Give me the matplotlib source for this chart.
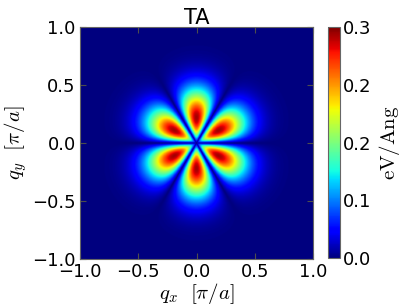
import numpy as np
import matplotlib
matplotlib.use("Agg")
import matplotlib.pyplot as plt

plt.rcParams['mathtext.fontset'] = 'cm'
plt.rcParams['font.family'] = ['DejaVu Sans']

# Data
q_range = [-1.0, 1.0]
n_grid = 400
peak_value = [0.30]          # eV/Ang, max of lobes
lobe_radius = [0.22]         # radius of lobe maxima (pi/a)
n_lobes = [6]
cbar_ticks = [0.0, 0.0775, 0.155, 0.2325, 0.31]
cbar_labels = ["0.0", "0.1", "0.2", "0.2", "0.3"]
axis_ticks = [-1.0, -0.5, 0.0, 0.5, 1.0]
title = "TA"

q = np.linspace(q_range[0], q_range[1], n_grid)
QX, QY = np.meshgrid(q, q)
R = np.hypot(QX, QY)
TH = np.arctan2(QY, QX)
r0 = lobe_radius[0]
radial = (R / r0) * np.exp(0.5 * (1 - (R / r0) ** 2))
field = peak_value[0] * radial * np.abs(np.sin(n_lobes[0] / 2 * TH))

fig = plt.figure(figsize=(4.07, 3.05), dpi=100)
ax = fig.add_axes([80/407, 1-259/305, 233/407, 232/305])
cax = fig.add_axes([328/407, 1-258/305, 12/407, 231/305])

im = ax.imshow(field, cmap='jet', origin='lower', extent=[q_range[0], q_range[1], q_range[0], q_range[1]],
               vmin=0, vmax=cbar_ticks[-1], interpolation='bilinear', aspect='auto')
ax.set_xticks(axis_ticks)
ax.set_yticks(axis_ticks)
ax.set_xticklabels([f"{t:.1f}".replace('-', '\u2212') for t in axis_ticks], fontsize=13)
ax.set_yticklabels([f"{t:.1f}".replace('-', '\u2212') for t in axis_ticks], fontsize=13)
ax.tick_params(direction='in', top=True, right=True, length=4, pad=3, color='0.3')
ax.set_xlabel(r'$q_x\ \ [\pi/a]$', fontsize=15, labelpad=0)
ax.set_ylabel(r'$q_y\ \ [\pi/a]$', fontsize=15, labelpad=2)
ax.set_title(title, fontsize=15, pad=2)
for s in ax.spines.values():
    s.set_color('0.4')

cb = fig.colorbar(im, cax=cax)
cb.set_ticks(cbar_ticks)
cb.set_ticklabels(cbar_labels)
cb.ax.tick_params(labelsize=13, length=0, pad=2)
cb.outline.set_edgecolor('0.4')
cb.set_label(r'$\mathrm{eV/Ang}$', fontsize=15, labelpad=4)

fig.savefig('out.png', dpi=100)
